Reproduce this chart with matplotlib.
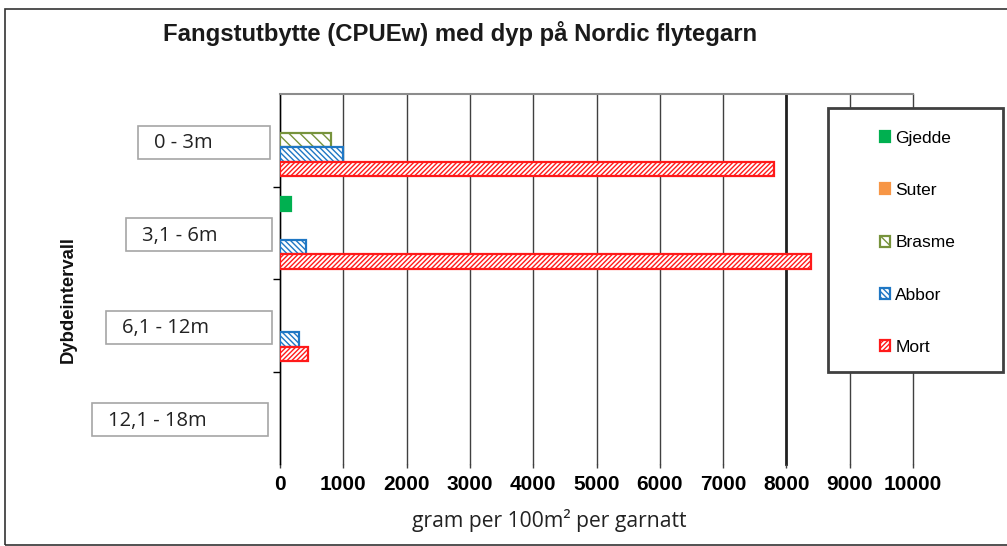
import matplotlib
matplotlib.use("Agg")
import matplotlib.pyplot as plt
import matplotlib.transforms as mtransforms
from matplotlib.patches import Rectangle, Patch
import numpy as np

# ---------------- data ----------------
categories = ["0 - 3m", "3,1 - 6m", "6,1 - 12m", "12,1 - 18m"]
species = ["Gjedde", "Suter", "Brasme", "Abbor", "Mort"]
gjedde = [0, 180, 0, 0]
suter = [0, 0, 0, 0]
brasme = [800, 0, 0, 0]
abbor = [1000, 410, 300, 0]
mort = [7800, 8390, 440, 0]
xticks = [0, 1000, 2000, 3000, 4000, 5000, 6000, 7000, 8000, 9000, 10000]

title = "Fangstutbytte (CPUEw) med dyp på Nordic flytegarn"
xlabel = "gram per 100m\u00b2 per garnatt"
ylabel = "Dybdeintervall"

# ---------------- styles ----------------
W, H = 1007, 546
fig = plt.figure(figsize=(W / 100, H / 100), dpi=100)
plt.rcParams["hatch.linewidth"] = 1.0


def fx(px):
    return px / W


def fy(py):
    return 1 - py / H


ax = fig.add_axes([fx(280), fy(464), fx(913) - fx(280), fy(94) - fy(464)])

styles = {
    "Gjedde": dict(facecolor="#00b050", edgecolor="#00b050", hatch=None),
    "Suter": dict(facecolor="#f79646", edgecolor="#f79646", hatch=None),
    "Brasme": dict(facecolor="white", edgecolor="#77933c", hatch="\\\\\\"),
    "Abbor": dict(facecolor="white", edgecolor="#1f77c4", hatch="\\\\\\\\\\\\"),
    "Mort": dict(facecolor="white", edgecolor="#ff1a1a", hatch="///////"),
}
series = [gjedde, suter, brasme, abbor, mort]
y = np.arange(len(categories))
bh = 0.156
handles = []
for k, (name, vals) in enumerate(zip(species, series)):
    st = styles[name]
    off = (k - 2) * bh
    vals = np.asarray(vals, dtype=float)
    mask = vals > 0
    if mask.any():
        ax.barh(y[mask] + off, vals[mask], height=bh, facecolor=st["facecolor"],
                edgecolor=st["edgecolor"], hatch=st["hatch"], linewidth=1.6,
                zorder=3)
    handles.append(Patch(facecolor=st["facecolor"], edgecolor=st["edgecolor"],
                         hatch=st["hatch"], linewidth=1.6))

ax.set_xlim(0, 10000)
ax.set_ylim(len(categories) - 0.5, -0.5)
ax.set_xticks(xticks)
ax.set_xticklabels([str(t) for t in xticks], fontsize=15,
                   fontweight="bold", family="Liberation Sans")
ax.tick_params(axis="x", direction="out", length=3, width=1, color="#404040",
               pad=5)
ax.xaxis.grid(True, color="#404040", linewidth=1.0, zorder=0, clip_on=False)
ax.set_axisbelow(True)
gl = ax.get_xgridlines()
gl[8].set_linewidth(2.0)
gl[8].set_color("#202020")

ax.set_yticks([])
ax.set_yticks(y[:-1] + 0.5, minor=True)
ax.tick_params(axis="y", which="minor", direction="out", length=5, width=1,
               color="black")

ax.spines["bottom"].set_visible(False)
ax.spines["right"].set_visible(False)
ax.spines["top"].set_color("#8c8c8c")
ax.spines["top"].set_linewidth(1.5)
ax.spines["left"].set_color("black")
ax.spines["left"].set_linewidth(1.0)

# category label boxes
blend = mtransforms.blended_transform_factory(fig.transFigure, ax.transData)
box_left = [138, 126, 106, 92]
box_right = [270, 272, 272, 268]
box_h = 33 / 92.5
for i, cat in enumerate(categories):
    rect = Rectangle((fx(box_left[i]), i + 0.02 - box_h / 2),
                     fx(box_right[i]) - fx(box_left[i]), box_h,
                     transform=blend, facecolor="white", edgecolor="#a6a6a6",
                     linewidth=1.2, clip_on=False)
    fig.add_artist(rect)
    fig.text(fx(box_left[i] + 16), i + 0.03, cat, transform=blend,
             ha="left", va="center", fontsize=14.5, family="Open Sans",
             color="#222222")

# title and axis labels
fig.text(fx(460), fy(33), title, ha="center", va="center", fontsize=17.2,
         fontweight="bold", family="Liberation Sans", color="#1a1a1a")
fig.text(fx(549), fy(521), xlabel, ha="center", va="center", fontsize=15.2,
         family="Open Sans", color="#222222")
fig.text(fx(68), fy(300), ylabel, ha="center", va="center", rotation=90,
         fontsize=13.3, fontweight="bold", family="Liberation Sans",
         color="#111111")

# legend box
lbox = Rectangle((fx(828), fy(372)), fx(1003) - fx(828), fy(108) - fy(372),
                 transform=fig.transFigure, facecolor="white",
                 edgecolor="#404040", linewidth=2.0, zorder=5)
fig.add_artist(lbox)
leg = fig.legend(handles, species, loc="upper left",
                 bbox_to_anchor=(fx(864), fy(115)), frameon=False,
                 handlelength=0.6, handleheight=0.6, handletextpad=0.3,
                 labelspacing=2.15, prop=dict(family="Liberation Sans", size=12.5))
leg.set_zorder(6)

# figure border
border = Rectangle((fx(5), fy(545)), fx(1010) - fx(5), fy(9) - fy(545),
                   transform=fig.transFigure, facecolor="none",
                   edgecolor="#333333", linewidth=1.2, zorder=0)
fig.add_artist(border)

fig.savefig("out.png", dpi=100)
